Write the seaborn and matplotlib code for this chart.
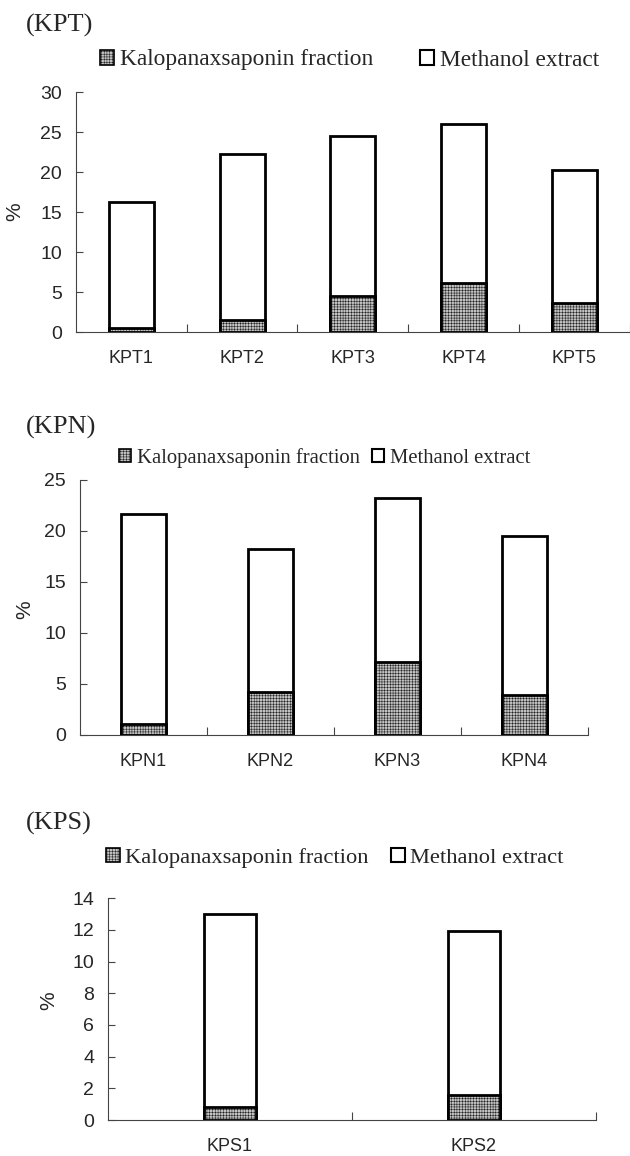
import matplotlib
matplotlib.use("Agg")
import matplotlib.pyplot as plt
import matplotlib.patches as mpatches
import seaborn as sns

# data (%), methanol extract = full bar height
kpt_labels = ["KPT1", "KPT2", "KPT3", "KPT4", "KPT5"]
kpt_methanol = [16.3, 22.3, 24.5, 26.0, 20.3]
kpt_fraction = [0.5, 1.5, 4.5, 6.1, 3.6]

kpn_labels = ["KPN1", "KPN2", "KPN3", "KPN4"]
kpn_methanol = [21.7, 18.2, 23.2, 19.5]
kpn_fraction = [1.1, 4.2, 7.2, 3.9]

kps_labels = ["KPS1", "KPS2"]
kps_methanol = [13.0, 11.9]
kps_fraction = [0.8, 1.6]

sns.set_style("ticks")
plt.rcParams["font.family"] = ["Liberation Sans", "DejaVu Sans"]
plt.rcParams["hatch.linewidth"] = 0.3
plt.rcParams["hatch.color"] = "#8a8a8a"

serif = ["Liberation Serif", "DejaVu Serif"]
frac_face = "#c2c2c2"

fig = plt.figure(figsize=(6.3, 11.56), dpi=100)

panels = [
    # name, labels, methanol, fraction, axes rect, ymax, ystep, bar width,
    # title y, legend x/y, legend font, column spacing, ylabel coords
    ("(KPT)", kpt_labels, kpt_methanol, kpt_fraction,
     [0.1206, 0.7128, 0.879, 0.2076], 30, 5, 0.405,
     25, 100, 60, 16.8, 2.0, (-0.094, 0.5)),
    ("(KPN)", kpn_labels, kpn_methanol, kpn_fraction,
     [0.127, 0.3642, 0.806, 0.2206], 25, 5, 0.35,
     427, 119, 458, 14.9, 0.6, (-0.09, 0.49)),
    ("(KPS)", kps_labels, kps_methanol, kps_fraction,
     [0.1714, 0.0311, 0.7746, 0.192], 14, 2, 0.21,
     823, 106, 858, 16.2, 1.0, (-0.102, 0.54)),
]

for (name, labels, meth, frac, rect, ymax, ystep, bw,
     ty, lx, ly, lfs, colsp, ylc) in panels:
    ax = fig.add_axes(rect)
    sns.barplot(x=labels, y=meth, ax=ax, color="white", saturation=1,
                edgecolor="black", linewidth=2.0, width=bw, errorbar=None)
    sns.barplot(x=labels, y=frac, ax=ax, color=frac_face, saturation=1,
                edgecolor="black", linewidth=2.0, width=bw, errorbar=None,
                hatch="++++++")
    n = len(labels)
    ax.set_xlim(-0.5, n - 0.5)
    ax.set_ylim(0, ymax)
    ax.set_yticks(range(0, ymax + 1, ystep))
    ax.set_xticks(range(n))
    ax.set_xticklabels(labels)
    ax.set_xticks([i + 0.5 for i in range(n)], minor=True)
    ax.tick_params(axis="x", which="major", length=0, pad=13, labelsize=13)
    ax.tick_params(axis="x", which="minor", direction="in", length=6,
                   width=0.8, color="#444444")
    ax.tick_params(axis="y", direction="in", length=5, width=0.8,
                   color="#444444", pad=10, labelsize=14)
    sns.despine(ax=ax)
    for s in ("left", "bottom"):
        ax.spines[s].set_linewidth(0.8)
        ax.spines[s].set_color("#444444")
    ax.set_xlabel("")
    ax.set_ylabel("%", fontsize=15)
    ax.yaxis.set_label_coords(*ylc)

    fig.text(26 / 630, 1 - ty / 1156, name, family=serif, fontsize=19,
             ha="left", va="center")

    h1 = mpatches.Patch(facecolor=frac_face, edgecolor="black",
                        linewidth=1.2, hatch="++++++")
    h2 = mpatches.Patch(facecolor="white", edgecolor="black", linewidth=1.5)
    ax.legend([h1, h2], ["Kalopanaxsaponin fraction", "Methanol extract"],
              loc="center left", bbox_to_anchor=(lx / 630, 1 - ly / 1156),
              bbox_transform=fig.transFigure, ncol=2, frameon=False,
              borderpad=0, borderaxespad=0, handlelength=0.6,
              handleheight=0.6, handletextpad=0.25, columnspacing=colsp,
              prop={"family": serif, "size": lfs})

fig.savefig("out.png", dpi=100)
